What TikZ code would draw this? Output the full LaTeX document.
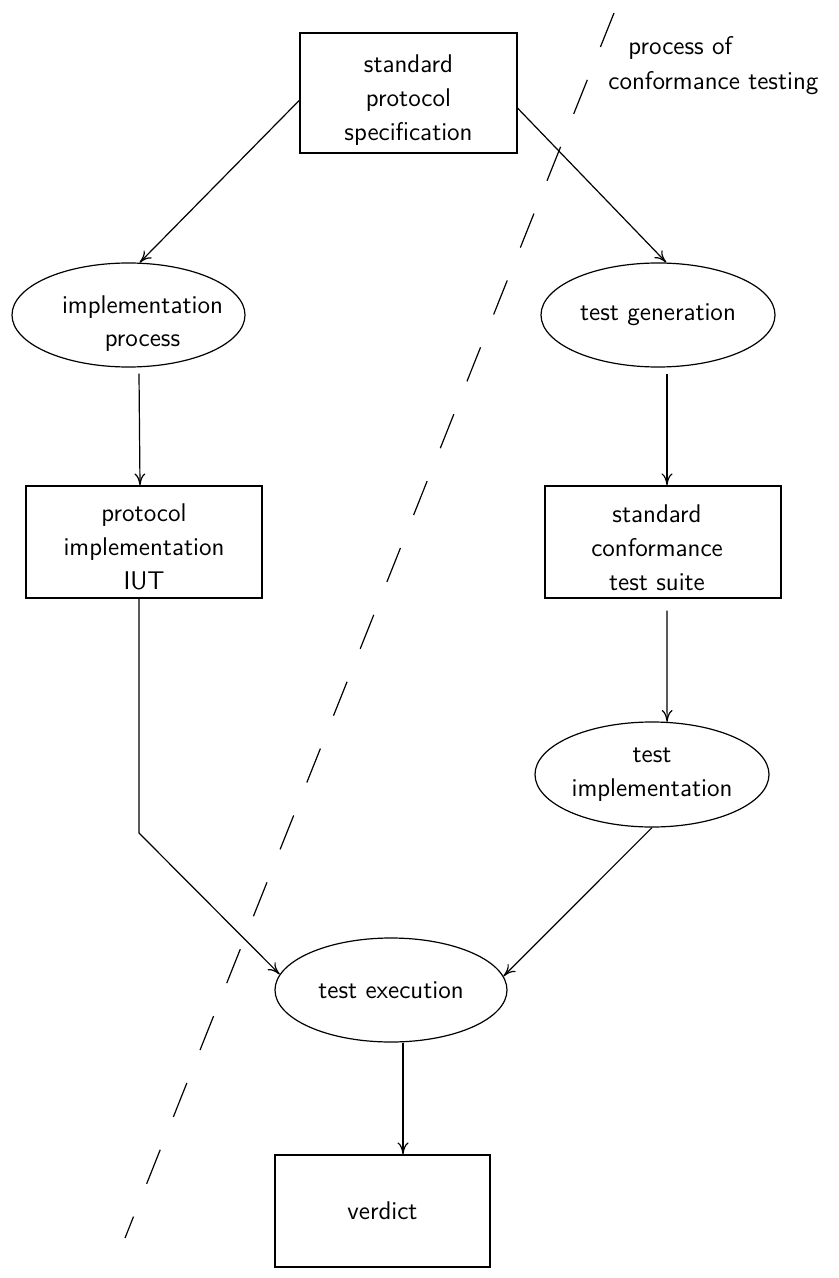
\documentclass[tikz,border=0pt]{standalone}
\usepackage{fontspec}
\usetikzlibrary{shapes.geometric,arrows.meta,calc}
\begin{document}
\begin{tikzpicture}[x=0.5pt,y=-0.5pt,
  font={\sffamily\fontsize{12.8pt}{17pt}\selectfont},
  box/.style={draw, rectangle, line width=0.6pt, inner sep=0pt, align=center},
  oval/.style={draw, ellipse, line width=0.6pt, inner sep=0pt, align=center},
  txt/.style={align=center, inner sep=0pt},
  arr/.style={line width=0.6pt, -{To[length=6pt,width=5.5pt]}},
  dashline/.style={line width=0.6pt, dash pattern=on 18.3pt off 17.7pt},
  lbl/.style={inner sep=0pt, anchor=base west}]
\useasboundingbox (0,0) rectangle (839,1278);

\node[box, minimum width=108.5pt, minimum height=60pt,
  label={[txt, yshift=-3.8pt]center:standard\\protocol\\specification}] (spec) at (408.5,93) {};
\node[oval, minimum width=116.5pt, minimum height=52pt,
  label={[txt, xshift=7pt, yshift=-4.3pt]center:implementation\\process}] (impl) at (128.5,315) {};
\node[oval, minimum width=117pt, minimum height=52pt] (tgen) at (658,315) {test generation};
\node[box, minimum width=118pt, minimum height=56pt,
  label={[txt, yshift=-2.5pt]center:protocol\\implementation\\IUT}] (iut) at (144,542) {};
\node[box, minimum width=118pt, minimum height=56pt,
  label={[txt, xshift=-3pt, yshift=-3pt]center:standard\\conformance\\test suite}] (suite) at (663,542) {};
\node[oval, minimum width=117pt, minimum height=52.5pt] (timpl) at (652,774.5) {test\\implementation};
\node[oval, minimum width=116pt, minimum height=52pt] (texec) at (391,990) {test execution};
\node[box, minimum width=107.5pt, minimum height=56pt] (verdict) at (382.5,1211) {verdict};

\node[lbl] (lbla) at (628,55) {process of};
\node[lbl] (lblb) at (608,90) {conformance testing};

\coordinate (dtop) at (614,13);
\coordinate (dbot) at (125,1238);
\draw[dashline] (dtop) -- (dbot);

\coordinate (bend) at (139,833);

\draw[arr] ($(spec.north west)!0.56!(spec.south west)$) -- (impl.78);
\draw[arr] ($(spec.north east)!0.625!(spec.south east)$) -- (tgen.81);
\draw[arr] ([xshift=5.25pt,yshift=-3pt]impl.south) -- ([xshift=-2pt]iut.north);
\draw[arr] ([xshift=4.5pt,yshift=-3pt]tgen.south) -- ([xshift=2pt]suite.north);
\draw[arr] ([xshift=-2.5pt]iut.south) -- (bend) -- (texec.172);
\draw[arr] ([xshift=2pt,yshift=-6pt]suite.south) -- (timpl.74);
\draw[arr] (timpl.south) -- (texec.7.3);
\draw[arr] ([xshift=6pt]texec.south) -- ([xshift=10.25pt]verdict.north);
\end{tikzpicture}
\end{document}
